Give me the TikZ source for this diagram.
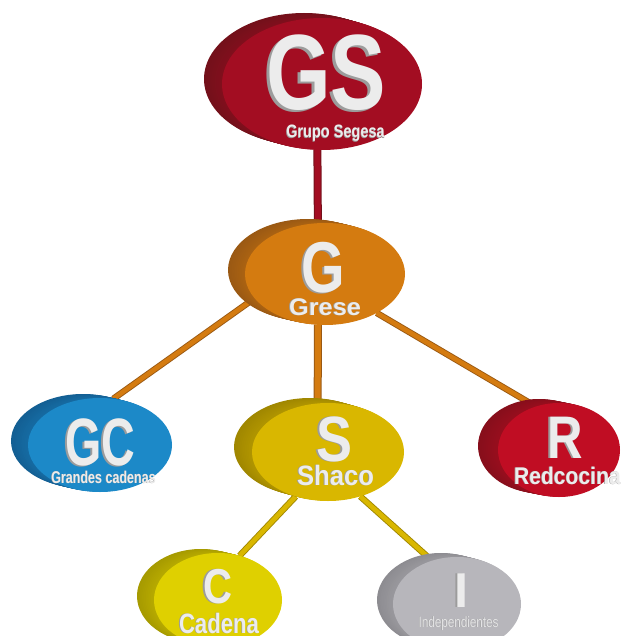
\documentclass[tikz,border=0pt]{standalone}
\usepackage{fontspec}
\setmainfont{Liberation Sans}
\usetikzlibrary{shapes.geometric}

\definecolor{gsface}{HTML}{A30D22}   \definecolor{gsside}{HTML}{73101A}
\definecolor{greseface}{HTML}{D47B10}\definecolor{greseside}{HTML}{9A5913}
\definecolor{gcface}{HTML}{1C89C8}   \definecolor{gcside}{HTML}{135F93}
\definecolor{shacoface}{HTML}{D9B700}\definecolor{shacoside}{HTML}{A08700}
\definecolor{redface}{HTML}{C00D23}  \definecolor{redside}{HTML}{870E1B}
\definecolor{cadface}{HTML}{DFD000}  \definecolor{cadside}{HTML}{A69A00}
\definecolor{indface}{HTML}{B7B6BB}  \definecolor{indside}{HTML}{8D8C91}
\definecolor{letterwhite}{HTML}{ECECEC}
\definecolor{lettershade}{HTML}{9C9C9C}

\pgfdeclarelayer{links}
\pgfsetlayers{links,main}

% white letters with a grey edge down and to the left
\newcommand{\shadowed}[1]{\rlap{\kern-0.035em\raisebox{-0.015em}{\color{lettershade}#1}}#1}
\newcommand{\fitlabel}[3]{\resizebox{#1pt}{\height}{\fontsize{#2}{#2}\selectfont\shadowed{#3}}}
% name, x, y, x radius, y radius, colour stem, rim offset x, rim offset y
\newcommand{\disc}[8]{%
  \foreach \k in {10,...,1}{
    \pgfmathsetmacro{\rimmix}{100-3*(10-\k)}
    \fill[#6side!\rimmix!#6face] (#2+#7*\k/10,#3+#8*\k/10) ellipse [x radius=#4, y radius=#5];
  }
  \node[face, fill=#6face, minimum width=2*#4, minimum height=2*#5] (#1) at (#2,#3) {};
}

\tikzset{
  face/.style={ellipse, inner sep=0pt, outer sep=0pt},
  lettering/.style={inner sep=0pt, anchor=base, text=letterwhite, font=\bfseries},
  link/.style 2 args={draw=#2, line width=0.9pt, double=#1, double distance=4.6pt},
  trunk/.style 2 args={draw=#2, line width=1pt, double=#1, double distance=6pt}
}

\begin{document}
\begin{tikzpicture}[x=1pt,y=-1pt]
\useasboundingbox (0,0) rectangle (624,636);

\disc{GS}{322}{84}{100}{66}{gs}{-18}{-5}
\disc{G}{325}{274}{80}{51}{grese}{-17}{-4}
\disc{GC}{100}{445}{72}{47}{gc}{-17}{-4}
\disc{S}{328}{452}{76}{49}{shaco}{-18}{-5}
\disc{R}{559}{450}{61}{47}{red}{-20}{-4}
\disc{C}{218}{600}{64}{47}{cad}{-17}{-4}
\disc{I}{457}{604}{64}{47}{ind}{-16}{-4}

% connectors behind the discs
\begin{pgfonlayer}{links}
\draw[trunk={gsface}{gsside}] (GS.266) -- (G.98);
\draw[trunk={greseface}{greseside}] (G.262) -- (S.102);
\draw[link={greseface}{greseside}] (G.199) -- (GC.74);
\draw[link={greseface}{greseside}] (G.323) -- (R.118);
\draw[link={shacoface}{shacoside}] (S.234) -- (C.64);
\draw[link={shacoface}{shacoside}] (S.306) -- (I.120);
\end{pgfonlayer}

\node[lettering] (GS-big) at (326,110) {\fitlabel{120}{107}{GS}};
\node[lettering] (GS-name) at (335.5,138) {\fitlabel{98.5}{18}{Grupo Segesa}};
\node[lettering] (G-big) at (323.5,292) {\fitlabel{43.5}{72}{G}};
\node[lettering] (G-name) at (325,315) {\fitlabel{72}{24}{Grese}};
\node[lettering] (GC-big) at (100,465) {\fitlabel{70}{67}{GC}};
\node[lettering] (GC-name) at (103.5,483) {\fitlabel{104.5}{17}{Grandes cadenas}};
\node[lettering] (S-big) at (334,461) {\fitlabel{36}{64}{S}};
\node[lettering] (S-name) at (335.5,485) {\fitlabel{77}{28}{Shaco}};
\node[lettering] (R-big) at (565,458) {\fitlabel{35.5}{60}{R}};
\node[lettering] (R-name) at (567.5,484) {\fitlabel{107}{24}{Redcocina}};
\node[lettering] (C-big) at (217.5,603) {\fitlabel{29}{49}{C}};
\node[lettering] (C-name) at (219,633) {\fitlabel{80}{28}{Cadena}};
\node[lettering] (I-big) at (461,607) {\fitlabel{14}{49}{I}};
\node[lettering, text=letterwhite!85!indface] (I-name) at (458.5,627) {\fitlabel{80}{15}{\mdseries Independientes}};
\end{tikzpicture}
\end{document}
